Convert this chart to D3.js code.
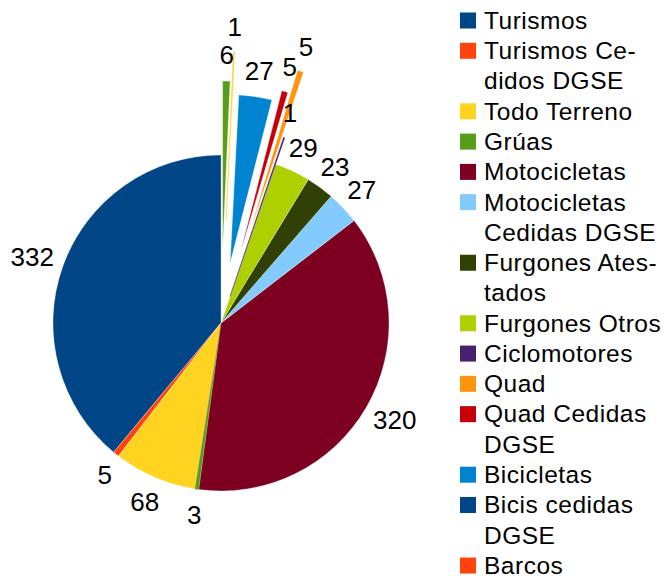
<!DOCTYPE html>
<html>
<head>
<meta charset="utf-8">
<script src="https://cdn.jsdelivr.net/npm/d3@7"></script>
<style>
  html, body { margin: 0; padding: 0; background: #fff; }
  svg { display: block; font-family: "Liberation Sans", Arial, sans-serif; }
</style>
</head>
<body>
<svg id="chart" width="667" height="576"></svg>
<script>
// ---- data ----
const categories = [
  "Turismos", "Turismos Cedidos DGSE", "Todo Terreno", "Grúas", "Motocicletas",
  "Motocicletas Cedidas DGSE", "Furgones Atestados", "Furgones Otros", "Ciclomotores",
  "Quad", "Quad Cedidas DGSE", "Bicicletas", "Bicis cedidas DGSE", "Barcos",
  "Otros 1", "Otros 2"
];
const values = [332, 5, 68, 3, 320, 27, 23, 29, 1, 5, 5, 27, 0, 0, 1, 6];
// legend text as it wraps in the picture (only the entries that are visible)
const legendLines = [
  ["Turismos"], ["Turismos Ce-", "didos DGSE"], ["Todo Terreno"], ["Grúas"], ["Motocicletas"],
  ["Motocicletas", "Cedidas DGSE"], ["Furgones Ates-", "tados"], ["Furgones Otros"], ["Ciclomotores"],
  ["Quad"], ["Quad Cedidas", "DGSE"], ["Bicicletas"], ["Bicis cedidas", "DGSE"], ["Barcos"]
];
// ---- styles ----
const palette = ["#004586", "#ff420e", "#ffd320", "#579d1c", "#7e0021", "#83caff",
  "#314004", "#aecf00", "#4b1f6f", "#ff950e", "#c5000b", "#0084d1"];
const explode = [0, 0, 0, 0, 0, 0, 0, 0, 28, 96, 72, 61, 0, 0, 103, 74];

const svg = d3.select("#chart");
const cx = 221, cy = 323, R = 168;
const labelFs = 26, legendFs = 24.5;

const color = d3.scaleOrdinal().domain(d3.range(categories.length)).range(palette);

const pie = d3.pie().sort(null).value(d => d.v).startAngle(0).endAngle(-2 * Math.PI);
const items = categories.map((c, i) => ({ c, v: values[i], i }));
const arcs = pie(items);
const arc = d3.arc().innerRadius(0).outerRadius(R);

const g = svg.append("g").attr("transform", `translate(${cx},${cy})`);

g.selectAll("path.slice")
  .data(arcs.filter(d => d.data.v > 0))
  .join("path")
  .attr("class", "slice")
  .attr("d", arc)
  .attr("fill", d => color(d.data.i))
  .attr("stroke", d => d.data.v > 3 ? "#fff" : color(d.data.i))
  .attr("stroke-width", d => d.data.v > 3 ? 0.3 : 0.4)
  .attr("transform", d => {
    const a = (d.startAngle + d.endAngle) / 2;
    const o = explode[d.data.i];
    return `translate(${Math.sin(a) * o},${-Math.cos(a) * o})`;
  });

// data labels
const lg = g.append("g");
arcs.filter(d => d.data.v > 0).forEach(d => {
  const a = (d.startAngle + d.endAngle) / 2;
  const sx = Math.sin(a), sy = -Math.cos(a);
  const re = R + explode[d.data.i] + 11;
  const t = lg.append("text")
    .attr("font-size", labelFs)
    .attr("fill", "#000")
    .attr("text-anchor", "middle")
    .text(d.data.v);
  const w = t.node().getComputedTextLength();
  const h = 30;
  const bx = sx * re + sx * w / 2;
  const by = sy * re + sy * h / 2;
  t.attr("x", bx).attr("y", by + labelFs * 0.358);
});

// legend
const legend = svg.append("g");
const lx = 460, tx = 484, pitch = 30.28;
let line = 0;
legendLines.forEach((lines, i) => {
  const yc = 20 + line * pitch;
  legend.append("rect")
    .attr("x", lx).attr("y", yc - 7.5)
    .attr("width", 16).attr("height", 16)
    .attr("fill", color(i));
  lines.forEach((s, k) => {
    legend.append("text")
      .attr("x", tx)
      .attr("y", 20 + (line + k) * pitch + legendFs * 0.36)
      .attr("font-size", legendFs)
      .attr("letter-spacing", 0.5)
      .attr("fill", "#000")
      .text(s);
  });
  line += lines.length;
});
</script>
</body>
</html>
